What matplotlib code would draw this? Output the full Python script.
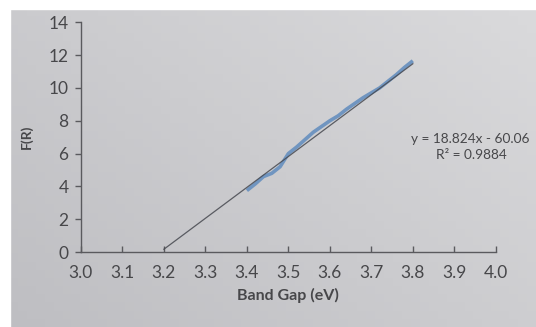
import numpy as np
import matplotlib.pyplot as plt
from matplotlib.colors import LinearSegmentedColormap
from matplotlib.patches import Rectangle

# measured points (band gap vs F(R))
band_gap = [3.40, 3.42, 3.44, 3.46, 3.48, 3.50, 3.52, 3.54, 3.56, 3.58, 3.60,
            3.62, 3.64, 3.66, 3.68, 3.70, 3.72, 3.74, 3.76, 3.78, 3.80]
f_r = [3.75, 4.15, 4.6, 4.8, 5.2, 6.0, 6.4, 6.85, 7.3, 7.65, 8.0,
       8.3, 8.7, 9.05, 9.4, 9.7, 10.0, 10.4, 10.8, 11.25, 11.65]

# linear trendline from the chart label
slope = 18.824
intercept = -60.06
trend_x = [3.2, 3.8]

x_ticks = [3.0, 3.1, 3.2, 3.3, 3.4, 3.5, 3.6, 3.7, 3.8, 3.9, 4.0]
y_ticks = [0, 2, 4, 6, 8, 10, 12, 14]

plt.rcParams['font.family'] = ['Lato', 'DejaVu Sans']
text_col = '#47474a'

fig = plt.figure(figsize=(5.36, 3.27), dpi=100)

# paper background (photo), lighter towards the top right
bg = fig.add_axes([0, 0, 1, 1], zorder=-10)
gx, gy = np.meshgrid(np.linspace(0, 1, 60), np.linspace(0, 1, 40))
paper = LinearSegmentedColormap.from_list('paper', ['#bebec2', '#dadadc'])
bg.imshow(0.55 * gx + 0.45 * gy, cmap=paper, origin='lower', aspect='auto', extent=[0, 1, 0, 1])
bg.set_axis_off()
fig.patches.append(Rectangle((0, 0.972), 1, 0.03, transform=fig.transFigure, color='white', zorder=5))
fig.patches.append(Rectangle((0, 0), 0.018, 1, transform=fig.transFigure, color='white', zorder=5))

ax = fig.add_axes([0.151, 0.229, 0.774, 0.703])
ax.patch.set_alpha(0)

ax.plot(band_gap, f_r, color='#7095c0', lw=2.6, solid_capstyle='butt', zorder=2)
trend_y = [slope * x + intercept for x in trend_x]
ax.plot(trend_x, trend_y, color='#46484f', lw=0.9, alpha=0.85, zorder=3)

ax.set_xlim(3.0, 4.0)
ax.set_ylim(0, 14)
ax.set_xticks(x_ticks)
ax.set_xticklabels([f'{v:.1f}' for v in x_ticks])
ax.set_yticks(y_ticks)

for s in ['top', 'right']:
    ax.spines[s].set_visible(False)
for s in ['left', 'bottom']:
    ax.spines[s].set_color('#5a5a5e')
    ax.spines[s].set_linewidth(1.0)

ax.tick_params(axis='x', direction='in', length=4, width=1, color='#5a5a5e',
               labelsize=12.5, labelcolor=text_col, pad=9)
ax.tick_params(axis='y', direction='out', length=4, width=1, color='#5a5a5e',
               labelsize=12.5, labelcolor=text_col, pad=5)

ax.set_xlabel('Band Gap (eV)', fontsize=11.5, fontweight='bold', color=text_col, labelpad=5)
ax.set_ylabel('F(R)', fontsize=10, fontweight='bold', color=text_col, labelpad=11)

fig.text(0.766, 0.574, 'y = 18.824x - 60.06', fontsize=9.8, color=text_col, ha='left', va='center')
fig.text(0.814, 0.526, 'R² = 0.9884', fontsize=9.8, color=text_col, ha='left', va='center')

fig.savefig('out.png', dpi=100)
